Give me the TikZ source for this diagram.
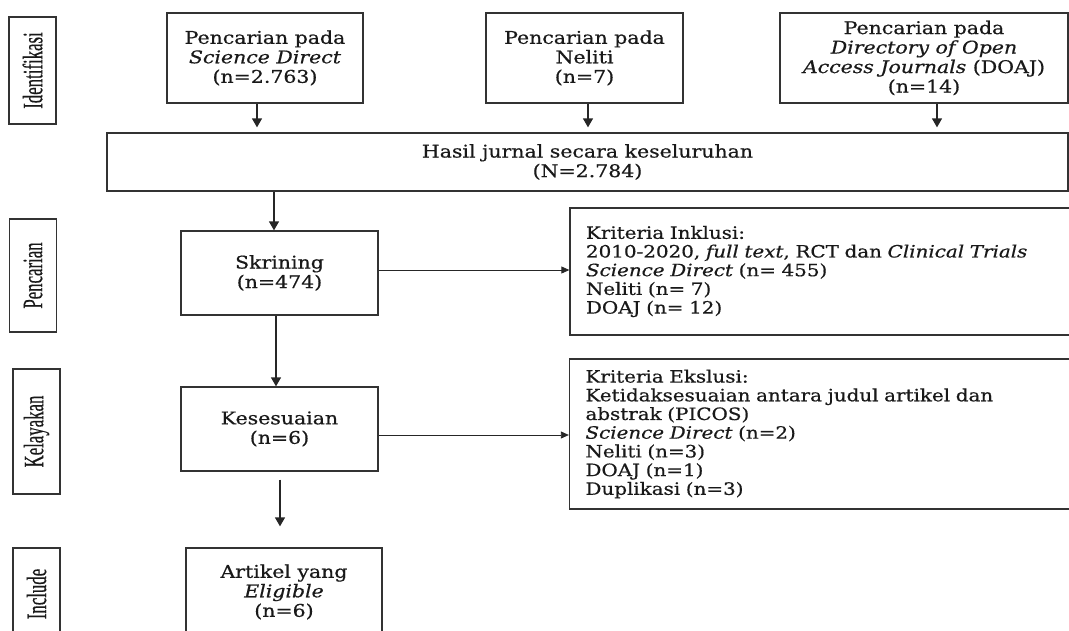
\documentclass[tikz,border=0pt]{standalone}
\usepackage{fontspec}
\usepackage{graphicx}
\setmainfont[FakeStretch=1.17, FakeBold=0.6]{DejaVu Serif}
\newfontfamily\sidefont[FakeBold=0.6]{Liberation Serif}
\usetikzlibrary{arrows.meta}

\begin{document}
\begin{tikzpicture}[x=1pt, y=-1pt,
		kotak/.style = {draw=black!80, line width=1.3pt, align=center, inner sep=0pt, text=black!90, font=\fontsize{17.5}{19.5}\selectfont},
		kriteria/.style = {kotak, align=left, text width=478pt, inner xsep=16pt, font=\fontsize{17}{18.7}\selectfont},
		tahap/.style = {draw=black!80, line width=1.5pt, rotate=90, inner sep=0pt, text=black!90, font=\sidefont\fontsize{28}{30}\selectfont},
		panah/.style = {-{Triangle[length=9pt,width=10pt]}, line width=1.3pt, black!85},
		panahkecil/.style = {-{Triangle[length=8pt,width=7pt]}, line width=0.8pt, black!85}]
		\useasboundingbox (0,0) rectangle (1069,630);
		\clip (0,0) rectangle (1069,630);
		% tahapan di kiri
		\node [tahap, minimum width=107pt, minimum height=47pt] (identifikasi) at (32.5,70.5) {\scalebox{0.6}[1]{Identifikasi}};
		\node [tahap, minimum width=113pt, minimum height=47pt] (pencarian) at (33,275.5) {\scalebox{0.6}[1]{Pencarian}};
		\node [tahap, minimum width=125pt, minimum height=47pt] (kelayakan) at (36.5,431.5) {\scalebox{0.6}[1]{Kelayakan}};
		\node [tahap, minimum width=92pt, minimum height=47pt] (include) at (36.5,594) {\scalebox{0.6}[1]{Include}};
		% sumber pencarian
		\node [kotak, minimum width=196pt, minimum height=90pt] (sd) at (265,58) {Pencarian pada\\\textit{Science Direct}\\(n=2.763)};
		\node [kotak, minimum width=197pt, minimum height=90pt] (neliti) at (584.5,58) {Pencarian pada\\Neliti\\(n=7)};
		\node [kotak, minimum width=288pt, minimum height=90pt] (doaj) at (924,58) {Pencarian pada\\\textit{Directory of Open}\\\textit{Access Journals} (DOAJ)\\(n=14)};
		\node [kotak, minimum width=961pt, minimum height=58pt] (hasil) at (587.5,162) {Hasil jurnal secara keseluruhan\\(N=2.784)};
		% alur utama
		\node [kotak, minimum width=197pt, minimum height=84pt] (skrining) at (279.5,273) {Skrining\\(n=474)};
		\node [kotak, minimum width=197pt, minimum height=84pt] (sesuai) at (279.5,429) {Kesesuaian\\(n=6)};
		\node [kotak, minimum width=196pt, minimum height=88pt] (artikel) at (284,592) {Artikel yang\\\textit{Eligible}\\(n=6)};
		% kriteria
		\node [kriteria, minimum height=127pt] (inklusi) at (825,271.5) {Kriteria Inklusi:\\2010-2020, \textit{full text}, RCT dan \textit{Clinical Trials}\\\textit{Science Direct} (n= 455)\\Neliti (n= 7)\\DOAJ (n= 12)};
		\node [kriteria, minimum height=150pt] (eksklusi) at (824.5,434) {Kriteria Ekslusi:\\Ketidaksesuaian antara judul artikel dan\\abstrak (PICOS)\\\textit{Science Direct} (n=2)\\Neliti (n=3)\\DOAJ (n=1)\\Duplikasi (n=3)};
		% panah
		\draw [panah, shorten >=5pt] ([xshift=-8pt]sd.south) -- ([xshift=-8pt]sd.south |- hasil.north);
		\draw [panah, shorten >=5pt] ([xshift=3.5pt]neliti.south) -- ([xshift=3.5pt]neliti.south |- hasil.north);
		\draw [panah, shorten >=5pt] ([xshift=13pt]doaj.south) -- ([xshift=13pt]doaj.south |- hasil.north);
		\draw [panah] ([xshift=-5.5pt]skrining.north |- hasil.south) -- ([xshift=-5.5pt]skrining.north);
		\draw [panah] ([xshift=-3.5pt]skrining.south) -- ([xshift=-3.5pt]sesuai.north);
		\draw [panah, shorten <=8pt, shorten >=21pt] ([xshift=0.5pt]sesuai.south) -- ([xshift=0.5pt]sesuai.south |- artikel.north);
		\draw [panahkecil] ([yshift=3pt]skrining.east) -- ([yshift=3pt]skrining.east -| inklusi.west);
		\draw [panahkecil] ([yshift=-6pt]sesuai.east) -- ([yshift=-6pt]sesuai.east -| eksklusi.west);
	\end{tikzpicture}
\end{document}
